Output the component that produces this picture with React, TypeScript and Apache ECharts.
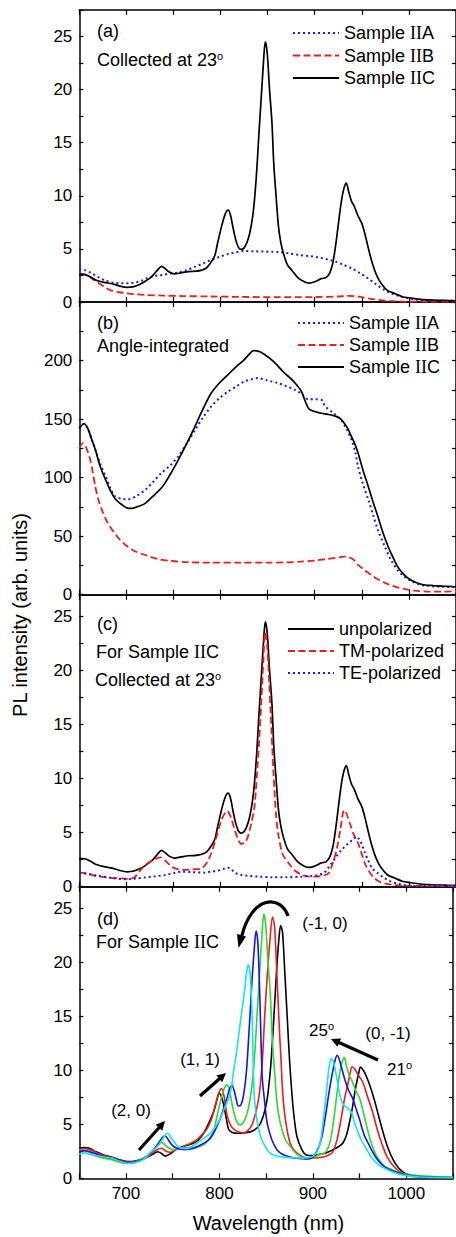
import React, { useEffect, useRef } from "react";
import * as echarts from "echarts";

// ---------- DATA ----------
// Panel (a) & (c): Sample IIC collected at 23 deg (also the 23 deg curve in (d))
const iic23: number[][] = [[650,2.62],[656,2.58],[662,2.35],[668,2.05],[676,1.85],[685,1.72],[693,1.5],[701,1.38],[708,1.45],[714,1.65],[720,1.95],[727,2.4],[732,2.9],[737.5,3.35],[741,3.15],[745,2.85],[751,2.65],[758,2.75],[766,2.86],[774,2.9],[780,3.0],[784,3.15],[787,3.4],[791,3.9],[794,4.4],[797,5.6],[801,7.1],[805,8.3],[808,8.65],[810.5,8.2],[813,7.1],[816,5.9],[819,5.15],[822,4.95],[825,5.1],[828,5.6],[831,6.5],[834,8.0],[836,9.6],[838.5,12.5],[840.5,15.5],[843,19.0],[845.5,22.5],[847.5,24.5],[849.5,23.5],[852,20.0],[854.5,17.0],[856.5,13.0],[858.5,10.5],[861.5,7.1],[864,5.6],[867,4.5],[871,3.5],[876,2.95],[882,2.3],[889,1.9],[894,1.78],[900,1.9],[907,2.2],[912,2.3],[916,2.75],[919,3.6],[921,4.6],[923.5,6.2],[926,8.0],[928.5,9.6],[931,10.7],[933.5,11.2],[936,10.4],[939,9.5],[942,9.0],[946,8.1],[950,7.4],[953,6.5],[956,5.4],[960,4.0],[964,2.9],[968,2.1],[971,1.7],[977,1.1],[985,0.8],[993,0.5],[1000,0.4],[1012,0.25],[1025,0.18],[1040,0.14],[1050,0.12]];
const iia23: number[][] = [[650,3.08],[656,3.0],[663,2.72],[670,2.35],[678,2.0],[686,1.82],[694,1.76],[703,1.78],[710,1.85],[716,2.0],[722,2.25],[730,2.45],[738,2.55],[746,2.68],[755,2.78],[764,3.0],[773,3.33],[782,3.65],[790,3.96],[799,4.25],[808,4.52],[816,4.68],[825,4.8],[835,4.78],[846,4.75],[855,4.73],[862,4.7],[872,4.58],[883,4.43],[894,4.32],[904,4.2],[913,4.02],[922,3.8],[930,3.52],[939,3.18],[948,2.72],[957,2.2],[965,1.68],[974,1.13],[983,0.75],[992,0.5],[1002,0.3],[1012,0.2],[1030,0.14],[1050,0.1]];
const iib23: number[][] = [[650,2.62],[655,2.62],[660,2.45],[665,2.1],[671,1.75],[677,1.4],[683,1.12],[690,0.95],[698,0.85],[708,0.74],[720,0.66],[740,0.6],[760,0.56],[790,0.52],[820,0.48],[860,0.46],[900,0.47],[925,0.52],[935,0.57],[943,0.55],[950,0.45],[958,0.32],[968,0.2],[980,0.1],[1000,0.04],[1050,0.03]];

// Panel (b): angle-integrated
const iiaInt: number[][] = [[650,142],[655,146],[659,142],[663,133],[667,124],[672,112],[678,101],[683,91],[688,84],[695,82],[702,81.5],[710,84],[720,89.5],[728,96],[737,103.8],[746,110],[755,118],[764,129],[773,140.8],[781,151],[790,160.7],[799,168],[808,173.5],[817,178],[825,182],[833,184],[840,185],[850,183],[861,180.7],[870,178],[879,175],[886,171.5],[893,167],[900,167],[907,166.5],[911,161],[920,155],[928,149.3],[934,141],[939,132.2],[943,122],[946,109.4],[951,95],[957,80.9],[962,68],[967,55.3],[974,42],[981,29.7],[988,21],[995,15.4],[1004,11],[1013,8.3],[1025,7.2],[1035,6.8],[1050,6.5]];
const iibInt: number[][] = [[650,125],[654,129.4],[657,126],[660.7,118],[664,106],[667,92.3],[670,82],[674,72.4],[679,63],[685,55.3],[692,48],[699,42.5],[708,37.5],[720,33.9],[733,30.5],[748,28.8],[765,27.8],[790,27.4],[820,27.4],[850,27.4],[870,27.6],[885,28.2],[900,29.2],[911,30.3],[922,31.5],[932,32.5],[939,31.1],[943,28.5],[946,25.4],[953,21],[960,16.8],[967,13.2],[974,10.3],[981,8],[988,6.3],[996,4.8],[1006,3.4],[1020,2.7],[1035,2.6],[1050,3]];
const iicInt: number[][] = [[650,142],[655,146],[659,142],[663,133],[667,124],[672,110],[678,98],[683,89],[688,82],[695,77],[701,74],[706,73.8],[713,75.5],[720,78],[728,84],[738,92],[746,102],[755,115],[764,129],[773,144],[781,158],[790,172],[799,181],[808,188],[817,195],[825,200.6],[830,205],[835,208.5],[841,207.7],[847,205],[852,202],[858,197.8],[867,190],[876,183.5],[882,178],[886,173.5],[890,165],[894,158.5],[900,156.5],[907,155],[914,154],[921,152.7],[926,151],[930,148],[935,142],[939,135],[943,128],[946,121],[951,107],[957,92],[962,79],[967,67],[972,54],[978,41],[983,32],[988,24],[995,17],[1002,12.6],[1009,10],[1017,8.3],[1026,7.8],[1035,7.4],[1050,6.8]];

// Panel (c): polarization, Sample IIC at 23 deg
const tmPol: number[][] = [[650,1.3],[660,1.2],[667,0.99],[677,0.88],[686,0.8],[695,0.77],[703,0.72],[709,0.9],[716,1.65],[720,2.0],[728,2.45],[736,2.72],[742,2.35],[748,1.85],[755,1.6],[762,1.55],[770,1.6],[780,1.7],[786,2.3],[790,3.09],[795,4.4],[801,6.17],[807,7.0],[811,6.4],[815,5.25],[819,4.3],[822,3.95],[826,4.1],[829,4.63],[833,6.0],[836,7.4],[838.5,10.2],[841,13.5],[843.5,17.5],[845.5,21.0],[847.3,23.5],[849.5,22.3],[853,16.4],[856.4,10.2],[859,6.5],[861.7,4.63],[866,3.0],[872.3,2.17],[879,1.5],[886.3,1.08],[893,0.95],[900.4,0.93],[908,1.0],[914.5,1.24],[918,1.9],[923.2,3.4],[927,5.2],[931.3,7.1],[934,6.7],[937.3,5.87],[941,4.9],[946.1,4.0],[950,3.0],[953.2,2.17],[957,1.5],[961.9,0.93],[967,0.55],[974.3,0.3],[985,0.15],[1000,0.08],[1050,0.05]];
const tePol: number[][] = [[650,1.3],[660,1.15],[670.8,0.99],[685,0.8],[698.9,0.68],[710,0.75],[720,0.86],[731,0.97],[741.1,1.08],[750,1.25],[758.7,1.39],[770,1.35],[783.3,1.3],[790,1.4],[797.4,1.48],[803,1.65],[808,1.76],[812,1.55],[816,1.25],[822,1.08],[830,1.0],[839.6,0.93],[855,0.88],[870,0.88],[886.3,0.93],[897,1.0],[903.9,1.08],[910,1.3],[914,1.7],[918,2.17],[923,2.8],[928.5,3.4],[935.5,4.0],[941,4.4],[944.3,4.63],[947,4.4],[949.6,4.0],[953,3.2],[956.6,2.47],[961,1.7],[967.2,1.24],[974,0.8],[981.3,0.46],[990,0.25],[1002,0.08],[1050,0.05]];

// Panel (d): angle-resolved Sample IIC, 21 to 25 deg
const ang21: number[][] = [[650,2.75],[655,2.85],[660,2.8],[668,2.45],[676,2.15],[685,1.95],[694,1.7],[702,1.55],[710,1.6],[720,1.85],[728,2.2],[734,2.46],[738,2.3],[742,2.05],[748,2.3],[755,2.75],[763,3.0],[772,3.24],[778,3.6],[783,4.17],[788,5.0],[794,6.2],[797.7,7.4],[799.5,7.9],[802,7.6],[804.5,6.8],[807,5.7],[810,4.5],[814,4.25],[819,4.17],[826,4.2],[833,4.3],[838,4.5],[843,4.95],[847,5.8],[850,6.8],[852,7.9],[855,10.5],[858,14.5],[861,19.0],[863.5,22.0],[865.5,23.4],[867.5,22.8],[870,19.0],[872.5,15.0],[875,11.0],[877.5,7.9],[880,5.6],[883,3.85],[888,2.7],[893,2.16],[900,2.1],[906,2.2],[914,2.35],[921,2.62],[927,2.9],[932,3.24],[936,4.0],[940,5.5],[943,6.9],[946,8.48],[949,9.7],[951,10.3],[954,10.0],[957,9.5],[961,8.6],[965,7.5],[970,5.9],[975,4.3],[980,2.9],[986,1.7],[992,0.93],[1000,0.4],[1015,0.15],[1030,0.08],[1050,0.05]];
const ang22: number[][] = [[650,2.65],[655,2.75],[660,2.7],[668,2.4],[676,2.1],[685,1.9],[694,1.65],[702,1.5],[710,1.55],[720,1.85],[728,2.3],[733,2.65],[738,2.78],[743,2.5],[747,2.4],[752,2.6],[760,2.9],[768,3.2],[775,3.5],[781,4.0],[787,4.63],[792,5.6],[796,6.9],[799,7.8],[802,8.3],[805,7.6],[808,5.9],[812,4.9],[816,4.5],[820,4.3],[825.5,4.2],[830,4.4],[834,4.8],[837,5.5],[840,6.5],[843,8.0],[846,11.0],[848.3,14.8],[851,18.5],[854,22.0],[856.8,24.2],[859,23.3],[861.7,18.5],[863.5,15.0],[866,10.8],[868,7.56],[871,5.2],[875.7,3.24],[881,2.5],[889.8,1.96],[897,1.88],[905,1.9],[912,2.0],[918,2.2],[921.5,2.46],[926,3.6],[930.3,5.55],[934,7.4],[937.3,8.64],[940,9.8],[942,10.33],[945,10.1],[949,9.5],[953.2,8.94],[958,7.7],[963.7,6.2],[969,4.5],[974.3,3.08],[980,1.9],[988.4,0.93],[995,0.5],[1005,0.2],[1020,0.1],[1050,0.05]];
const ang23: number[][] = iic23;
const ang24: number[][] = [[650,2.45],[655,2.55],[660,2.5],[668,2.25],[676,2.0],[685,1.85],[694,1.6],[702,1.45],[710,1.5],[718,1.75],[725,2.2],[731,2.8],[736,3.4],[739,3.8],[741.8,3.94],[745,3.6],[749,3.1],[755,2.75],[763,2.65],[772.8,2.78],[780,3.1],[786,3.4],[790.3,3.7],[795,4.4],[800.9,5.55],[805,6.6],[808,7.4],[811,8.3],[813.2,8.64],[815.5,8.2],[818,7.3],[820.2,6.7],[823,6.8],[826,7.8],[829,10.0],[832.5,14.8],[835,18.5],[837.5,21.5],[839.2,22.9],[841,22.0],[843,17.5],[845.8,9.4],[848.5,7.0],[851.1,5.1],[856,3.6],[861.7,2.62],[868,2.2],[875.7,1.96],[883,1.85],[892,1.8],[898,1.85],[904,2.46],[909,3.6],[913,5.5],[917,7.8],[921,9.8],[924,11.0],[926.1,11.4],[929,10.8],[933.8,9.26],[938,8.2],[942.6,7.4],[946,6.5],[949.6,5.55],[955,4.0],[960.2,3.08],[967,2.0],[974.3,1.23],[982,0.8],[991.8,0.5],[1000,0.3],[1015,0.15],[1050,0.05]];
const ang25: number[][] = [[650,2.25],[656,2.35],[662,2.2],[670,2.05],[678,1.95],[685,1.85],[694,1.55],[702.4,1.39],[710,1.45],[718,1.7],[727,2.46],[733,2.9],[737.6,3.39],[741,3.9],[744.6,4.17],[748,3.8],[752,3.3],[758.7,2.78],[765,2.75],[772.8,3.08],[780,3.5],[790.3,4.17],[796,4.8],[800.9,5.55],[805,6.4],[809.7,7.4],[813,8.5],[815,9.87],[818,11.5],[822,14.2],[826,16.8],[829,19.0],[830.8,19.8],[833,18.8],[835,15.0],[837.1,7.87],[840,5.5],[844.1,3.85],[850,2.8],[854.6,2.3],[862,2.05],[868.7,1.96],[877,1.9],[883,1.88],[890,1.86],[895,1.9],[900,2.05],[904,2.4],[907.4,3.08],[910,4.5],[912,6.0],[914.5,8.0],[917,10.0],[919.7,11.1],[922,10.8],[924.5,9.8],[926.8,8.64],[929.5,7.5],[932.8,6.79],[937,6.5],[941,6.17],[944,5.3],[948,4.32],[952,3.5],[956.8,2.78],[963,1.9],[970.9,1.23],[980,0.8],[988.4,0.5],[1000,0.25],[1015,0.12],[1050,0.05]];

// Axes / labels
const xRange = [650, 1050];
const yMax = [27.5, 250, 27, 27];
const yStep = [2.5, 25, 2.5, 2.5];
const yLabelStep = [5, 50, 5, 5];
const yLabelMax = [25, 200, 25, 25];
const legendA = ["Sample IIA", "Sample IIB", "Sample IIC"];
const legendC = ["unpolarized", "TM-polarized", "TE-polarized"];

// ---------- STYLE ----------
const SANS = '"Liberation Sans", Arial, Helvetica, sans-serif';
const SERIF = '"Liberation Serif", "Times New Roman", serif';
const BLACK = "#000000";
const RED = "#ee1c1c";
const BLUE = "#1a1aee";
const GREEN = "#2fd82f";
const BLUE2 = "#1414f0";
const CYAN = "#14e4f0";

const grids = [
  { top: 10, height: 292 },
  { top: 302, height: 292.7 },
  { top: 594.7, height: 292 },
  { top: 886.7, height: 291.6 },
];

const solid = (c: string, w = 1.7) => ({ color: c, width: w, type: "solid" });
const dashed = (c: string) => ({ color: c, width: 1.8, type: [7, 3.5] });
const dotted = (c: string) => ({ color: c, width: 2, type: [2, 3] });

function buildOption() {
  const xAxis: any[] = [];
  const yAxis: any[] = [];
  grids.forEach((_, gi) => {
    const base = {
      type: "value",
      gridIndex: gi,
      min: xRange[0],
      max: xRange[1],
      interval: 50,
      axisLine: { show: true, onZero: false, lineStyle: { color: BLACK, width: 1.5 } },
      axisTick: { show: true, inside: true, length: 5, lineStyle: { color: BLACK, width: 1.2 } },
      splitLine: { show: false },
    };
    xAxis.push({
      ...base,
      position: "bottom",
      axisLabel: {
        show: gi === 3,
        margin: 7,
        color: BLACK,
        fontFamily: SANS,
        fontSize: 17,
        formatter: (v: number) => (v % 100 === 0 ? String(v) : ""),
      },
    });
    xAxis.push({ ...base, position: "top", axisLabel: { show: false } });
    const ybase = {
      type: "value",
      gridIndex: gi,
      min: 0,
      max: yMax[gi],
      interval: yStep[gi],
      axisLine: { show: true, onZero: false, lineStyle: { color: BLACK, width: 1.5 } },
      axisTick: { show: true, inside: true, length: 4, lineStyle: { color: BLACK, width: 1.2 } },
      splitLine: { show: false },
    };
    yAxis.push({
      ...ybase,
      position: "left",
      axisLabel: {
        show: true,
        margin: 7,
        color: BLACK,
        fontFamily: SANS,
        fontSize: 17,
        formatter: (v: number) =>
          Math.abs(v % yLabelStep[gi]) < 1e-6 && v <= yLabelMax[gi] ? String(v) : "",
      },
    });
    yAxis.push({ ...ybase, position: "right", axisLabel: { show: false } });
  });

  const ser = (name: string, data: number[][], gi: number, lineStyle: any) => ({
    type: "line",
    name,
    data,
    xAxisIndex: 2 * gi,
    yAxisIndex: 2 * gi,
    showSymbol: false,
    symbol: "none",
    smooth: 0.3,
    clip: true,
    silent: true,
    itemStyle: { color: lineStyle.color, opacity: 0 },
    lineStyle,
  });

  const series = [
    ser("Sample IIA", iia23, 0, dotted(BLUE)),
    ser("Sample IIB", iib23, 0, dashed(RED)),
    ser("Sample IIC", iic23, 0, solid(BLACK)),
    ser("Sample IIA", iiaInt, 1, dotted(BLUE)),
    ser("Sample IIB", iibInt, 1, dashed(RED)),
    ser("Sample IIC", iicInt, 1, solid(BLACK)),
    ser("unpolarized", iic23, 2, solid(BLACK)),
    ser("TM-polarized", tmPol, 2, dashed(RED)),
    ser("TE-polarized", tePol, 2, dotted(BLUE)),
    ser("21°", ang21, 3, solid(BLACK, 1.6)),
    ser("22°", ang22, 3, solid(RED, 1.6)),
    ser("23°", ang23, 3, solid(GREEN, 1.6)),
    ser("24°", ang24, 3, solid(BLUE2, 1.6)),
    ser("25°", ang25, 3, solid(CYAN, 1.6)),
  ];

  const rich = {
    n: { fontFamily: SANS, fontSize: 18, lineHeight: 18, color: BLACK },
    r: { fontFamily: SERIF, fontSize: 18, lineHeight: 18, color: BLACK },
  };
  const legendFmt = (name: string) =>
    name.includes("II")
      ? name.replace(/^(.*?)II(.*)$/, "{n|$1}{r|II}{n|$2}")
      : `{n|${name}}`;
  const mkLegend = (data: string[], left: number, top: number, gap: number) => ({
    data,
    orient: "vertical",
    left,
    top,
    padding: 0,
    itemGap: gap,
    itemWidth: 46,
    itemHeight: 14,
    selectedMode: false,
    formatter: legendFmt,
    itemStyle: { opacity: 0 },
    lineStyle: { opacity: 1 },
    textStyle: { fontFamily: SANS, fontSize: 18, color: BLACK, rich },
  });

  const txtRich = {
    n: { fontFamily: SANS, fontSize: 18, lineHeight: 20, color: BLACK },
    r: { fontFamily: SERIF, fontSize: 18, lineHeight: 20, color: BLACK },
    s: { fontFamily: SANS, fontSize: 11, lineHeight: 20, color: BLACK, verticalAlign: "top" },
    m: { fontFamily: SANS, fontSize: 17, lineHeight: 20, color: BLACK },
  };
  const txt = (x: number, y: number, text: string, align = "left") => ({
    type: "text",
    x,
    y,
    silent: true,
    style: {
      text,
      rich: txtRich,
      fontFamily: SANS,
      fontSize: 18,
      fill: BLACK,
      align,
      verticalAlign: "middle",
    },
  });

  const arrow = (x1: number, y1: number, x2: number, y2: number) => {
    const dx = x2 - x1;
    const dy = y2 - y1;
    const L = Math.hypot(dx, dy);
    const ux = dx / L;
    const uy = dy / L;
    const hl = 9;
    const hw = 4.5;
    const bx = x2 - ux * hl;
    const by = y2 - uy * hl;
    return [
      { type: "line", silent: true, shape: { x1, y1, x2: bx + ux * 1, y2: by + uy * 1 }, style: { stroke: BLACK, lineWidth: 3.2 } },
      {
        type: "polygon",
        silent: true,
        shape: { points: [[x2, y2], [bx - uy * hw, by + ux * hw], [bx + uy * hw, by - ux * hw]] },
        style: { fill: BLACK },
      },
    ];
  };

  const graphicEls: any[] = [
    // panel labels
    txt(97, 31, "{n|(a)}"),
    txt(97, 60, "{n|Collected at 23}{s|o}"),
    txt(97, 323, "{n|(b)}"),
    txt(97, 346, "{n|Angle-integrated}"),
    txt(97, 623.5, "{n|(c)}"),
    txt(96, 651.7, "{n|For Sample }{r|II}{n|C}"),
    txt(95, 680, "{n|Collected at 23}{s|o}"),
    txt(97, 918.5, "{n|(d)}"),
    txt(96, 942, "{n|For Sample }{r|II}{n|C}"),
    // annotations in (d)
    txt(325, 923, "{m|(-1, 0)}", "center"),
    txt(388, 1033, "{m|(0, -1)}", "center"),
    txt(309, 1030, "{m|25}{s|o}"),
    txt(387, 1069, "{m|21}{s|o}"),
    txt(200, 1059, "{m|(1, 1)}", "center"),
    txt(131, 1110, "{m|(2, 0)}", "center"),
    ...arrow(139, 1150, 165, 1121),
    ...arrow(200, 1096, 226, 1073),
    ...arrow(378, 1060, 331, 1039),
    {
      type: "bezierCurve",
      silent: true,
      shape: { x1: 288, y1: 916, cpx1: 281, cpy1: 895, cpx2: 252, cpy2: 894, x2: 241.5, y2: 937 },
      style: { stroke: BLACK, lineWidth: 3.2, fill: null },
    },
    {
      type: "polygon",
      silent: true,
      shape: { points: [[238.5, 948], [246, 936.5], [237, 934]] },
      style: { fill: BLACK },
    },
    // axis titles
    {
      type: "text",
      x: 268.5,
      y: 1223,
      silent: true,
      style: { text: "Wavelength (nm)", fontFamily: SANS, fontSize: 20, fill: BLACK, align: "center", verticalAlign: "middle" },
    },
    {
      type: "text",
      x: 20,
      y: 615,
      rotation: Math.PI / 2,
      silent: true,
      style: { text: "PL intensity (arb. units)", fontFamily: SANS, fontSize: 20, fill: BLACK, align: "center", verticalAlign: "middle" },
    },
  ];

  return {
    animation: false,
    backgroundColor: "#ffffff",
    grid: grids.map((g) => ({ left: 79.3, width: 379, top: g.top, height: g.height, containLabel: false })),
    xAxis,
    yAxis,
    legend: [
      mkLegend(legendA, 292, 24, 4.5),
      mkLegend(legendA, 297, 314, 4),
      mkLegend(legendC, 287, 620, 4),
    ],
    series,
    graphic: { elements: graphicEls },
  };
}

export default function App() {
  const ref = useRef<HTMLDivElement>(null);
  useEffect(() => {
    if (!ref.current) return;
    const chart = echarts.init(ref.current, undefined, { renderer: "svg" });
    chart.setOption(buildOption() as any);
    return () => chart.dispose();
  }, []);
  return (
    <div
      ref={ref}
      style={{ position: "absolute", left: 0, top: 0, width: 456, height: 1237, background: "#fff" }}
    />
  );
}
